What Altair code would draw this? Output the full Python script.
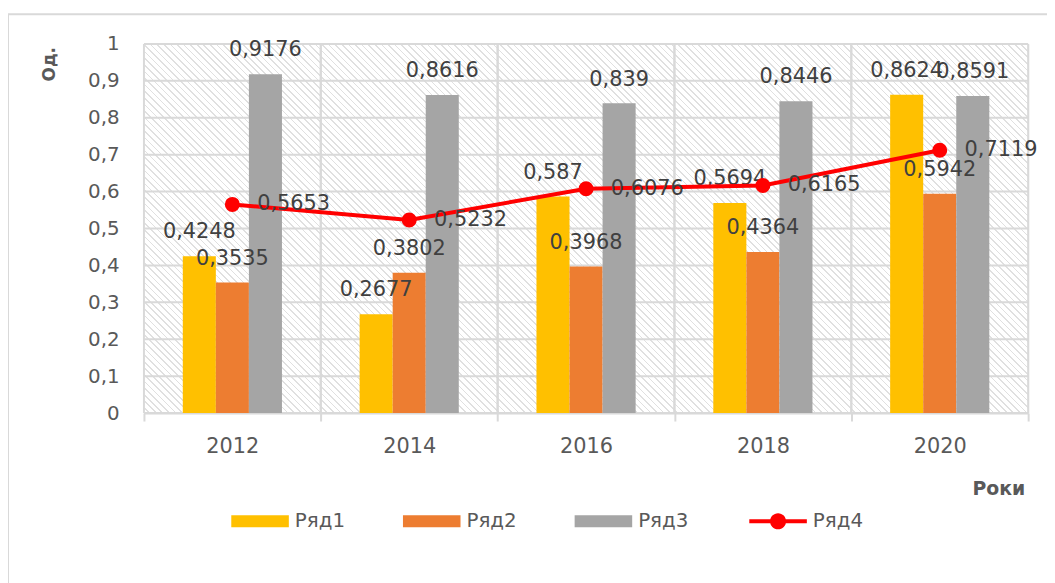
import altair as alt
import pandas as pd

# ---- data ----
years = ["2012", "2014", "2016", "2018", "2020"]
series_bars = ["Ряд1", "Ряд2", "Ряд3"]
series_line = "Ряд4"
r1 = [0.4248, 0.2677, 0.587, 0.5694, 0.8624]
r2 = [0.3535, 0.3802, 0.3968, 0.4364, 0.5942]
r3 = [0.9176, 0.8616, 0.839, 0.8446, 0.8591]
r4 = [0.5653, 0.5232, 0.6076, 0.6165, 0.7119]
y_ticks = [0, 0.1, 0.2, 0.3, 0.4, 0.5, 0.6, 0.7, 0.8, 0.9, 1.0]
bar_colors = ["#FFC000", "#ED7D31", "#A5A5A5"]
line_color = "#FF0000"
y_title = "Од."
x_title = "Роки"


def lab(v):
    return f"{v:g}".replace(".", ",")


rows = []
for s, vals in zip(series_bars, [r1, r2, r3]):
    for y, v in zip(years, vals):
        rows.append({"year": y, "series": s, "value": v, "label": lab(v)})
bars_df = pd.DataFrame(rows)
line_df = pd.DataFrame({"year": years, "series": series_line, "value": r4,
                        "label": [lab(v) for v in r4]})
grid_df = pd.DataFrame({"value": y_ticks})
year_df = pd.DataFrame({"year": years})

W, H = 891, 372
FONT = "DejaVu Sans"
GRID = "#d9d9d9"

# offset slots: an empty slot each side of the three bars (gap between groups)
offset_domain = ["_gapL"] + series_bars + ["_gapR"]

# ---- hatch background as a striped linear gradient ----
r = H / W
gx = (1 + r) / (1 + r * r)
x1, y1 = -r, 0.0
x2, y2 = x1 + gx, y1 - gx * r
n = 190
f = 0.25
HATCH = "#e0e0e0"
stops = []
for k in range(n):
    a = k / n
    b = (k + 1 - f) / n
    c = (k + 1) / n
    stops += [
        alt.GradientStop(offset=a, color="#ffffff"),
        alt.GradientStop(offset=b, color="#ffffff"),
        alt.GradientStop(offset=b, color=HATCH),
        alt.GradientStop(offset=c, color=HATCH),
    ]
hatch_grad = alt.LinearGradient(gradient="linear", stops=stops,
                                x1=x1, y1=y1, x2=x2, y2=y2)

one = alt.Data(values=[{"k": 1}])

frame = alt.Chart(one).mark_rect(fillOpacity=0, stroke=GRID, strokeWidth=2).encode(
    x=alt.value(-137), x2=alt.value(W + 200), y=alt.value(-30), y2=alt.value(H + 400)
)

hatch = alt.Chart(one).mark_rect(color=hatch_grad).encode(
    x=alt.value(0), x2=alt.value(W), y=alt.value(0), y2=alt.value(H)
)

x_axis = alt.Axis(
    title=x_title, titleX=861, titleY=76, titleAlign="center", titleBaseline="middle",
    titleAngle=0, titleFont=FONT, titleFontSize=19, titleFontWeight="bold",
    titleColor="#595959",
    labelAngle=0, labelAlign="center", labelFont=FONT, labelFontSize=21,
    labelColor="#595959", labelPadding=15, labelBaseline="top",
    domain=True, domainColor=GRID, domainWidth=2,
    ticks=True, tickColor=GRID, tickWidth=2, tickSize=8, tickBand="extent",
    bandPosition=0.5, grid=False,
)
x_scale = alt.Scale(paddingInner=0, paddingOuter=0)

y_axis = alt.Axis(
    values=y_ticks, labelOverlap=False,
    labelExpr="replace(format(datum.value, '.1~f'), '.', ',')",
    title=y_title, titleX=-95, titleY=20, titleAngle=270, titleAlign="center",
    titleBaseline="middle", titleFont=FONT, titleFontSize=17, titleFontWeight="bold",
    titleColor="#595959",
    labelFont=FONT, labelFontSize=20, labelColor="#595959", labelPadding=25,
    domain=False, ticks=False, grid=False,
)
y_scale = alt.Scale(domain=[0, 1], nice=False)


def X(**kw):
    return alt.X("year:N", sort=years, scale=x_scale, axis=x_axis, title=x_title, **kw)


def Y():
    return alt.Y("value:Q", scale=y_scale, axis=y_axis, title=y_title)


hgrid = alt.Chart(grid_df).mark_rule(color=GRID, strokeWidth=2).encode(y=Y())
vgrid0 = alt.Chart(year_df).mark_rule(color=GRID, strokeWidth=2).encode(
    x=X(bandPosition=0)
)
vgrid1 = alt.Chart(year_df).mark_rule(color=GRID, strokeWidth=2).encode(
    x=X(bandPosition=1)
)

rect_path = "M-1,-0.207H1V0.207H-1Z"
line_path = ("M-1,-0.07H1V0.07H-1Z "
             "M0.28,0A0.28,0.28,0,1,1,-0.28,0A0.28,0.28,0,1,1,0.28,0Z")

bars = alt.Chart(bars_df).mark_bar(opacity=1).encode(
    x=X(),
    xOffset=alt.XOffset("series:N",
                        scale=alt.Scale(domain=offset_domain, paddingInner=0,
                                        paddingOuter=0.175)),
    y=Y(),
    color=alt.Color(
        "series:N",
        scale=alt.Scale(domain=series_bars, range=bar_colors),
        legend=alt.Legend(
            orient="none", legendX=88, legendY=452, direction="horizontal", columns=3,
            title=None, symbolType=rect_path, symbolSize=3364, symbolStrokeWidth=0,
            labelFont=FONT, labelFontSize=20, labelColor="#595959", labelOffset=6,
            columnPadding=58, padding=0,
        ),
    ),
)

bar_text = alt.Chart(bars_df).mark_text(
    font=FONT, fontSize=21, color="#404040", baseline="alphabetic", dy=-18
).encode(
    x=X(),
    xOffset=alt.XOffset("series:N"),
    y=Y(),
    text="label:N",
)

line = alt.Chart(line_df).mark_line(color=line_color, strokeWidth=4).encode(
    x=X(), y=Y()
)

points = alt.Chart(line_df).mark_circle(size=230, opacity=1).encode(
    x=X(),
    y=Y(),
    fill=alt.Fill(
        "series:N",
        scale=alt.Scale(domain=[series_line], range=[line_color]),
        legend=alt.Legend(
            orient="none", legendX=610, legendY=452, direction="horizontal",
            title=None, symbolType=line_path, symbolSize=3364, symbolStrokeWidth=0,
            labelFont=FONT, labelFontSize=20, labelColor="#595959", labelOffset=6,
            padding=0,
        ),
    ),
)

line_text = alt.Chart(line_df).mark_text(
    font=FONT, fontSize=21, color="#404040", align="left", baseline="middle", dx=25
).encode(
    x=X(), y=Y(), text="label:N"
)

chart = alt.layer(
    frame, hatch, hgrid, vgrid0, vgrid1, bars, bar_text, line, points, line_text
).properties(
    width=W, height=H,
    padding={"left": 137, "top": 34, "right": 19, "bottom": 169},
    autosize=alt.AutoSizeParams(type="none"),
).configure_view(stroke=None).configure(font=FONT, background="white")

chart.save("out.html", embed_options={"renderer": "svg", "actions": False})
